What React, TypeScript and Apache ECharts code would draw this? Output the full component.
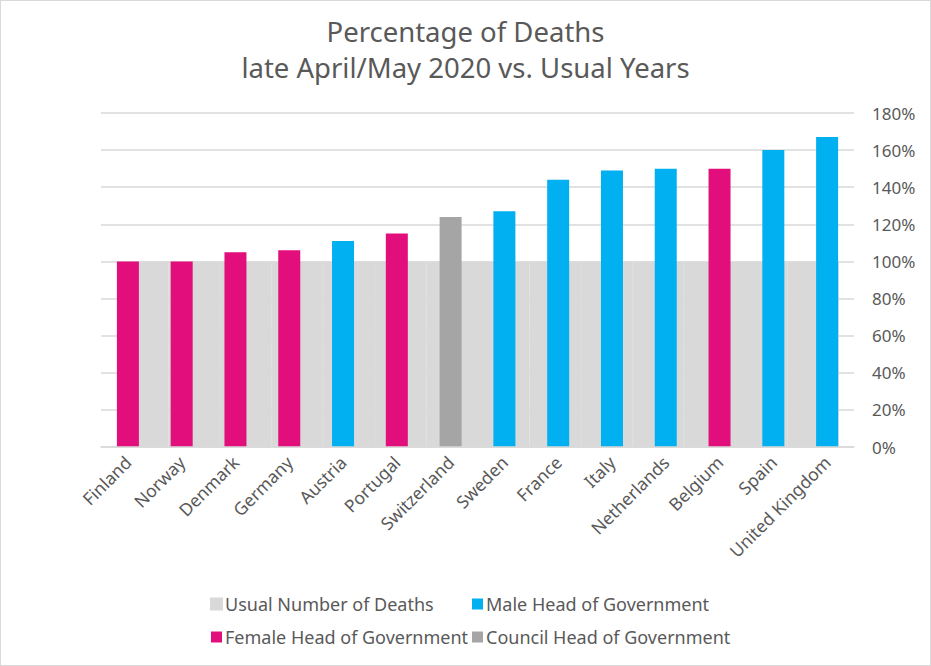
import React, { useEffect, useRef } from 'react';
import * as echarts from 'echarts';

const countries = [
  'Finland', 'Norway', 'Denmark', 'Germany', 'Austria', 'Portugal', 'Switzerland',
  'Sweden', 'France', 'Italy', 'Netherlands', 'Belgium', 'Spain', 'United Kingdom'
];
const usualDeaths = [100, 100, 100, 100, 100, 100, 100, 100, 100, 100, 100, 100, 100, 100];
const maleHead = [null, null, null, null, 111, null, null, 127, 144, 149, 150, null, 160, 167];
const femaleHead = [100, 100, 105, 106, null, 115, null, null, null, null, null, 150, null, null];
const councilHead = [null, null, null, null, null, null, 124, null, null, null, null, null, null, null];

const FONT = '"Noto Sans", "Open Sans", sans-serif';
const TEXT = '#595959';

export default function App() {
  const chartRef = useRef<HTMLDivElement>(null);

  useEffect(() => {
    document.body.style.margin = '0';
    if (!chartRef.current) return;
    const chart = echarts.init(chartRef.current, null, { renderer: 'svg' });

    const legendStyle = {
      orient: 'vertical' as const,
      top: 589,
      itemGap: 15,
      itemWidth: 11,
      itemHeight: 11,
      icon: 'rect',
      textStyle: { fontFamily: FONT, fontSize: 18, color: TEXT, padding: [0, 0, 0, -2] }
    };

    const option: echarts.EChartsOption = {
      animation: false,
      textStyle: { fontFamily: FONT, color: TEXT },
      title: {
        text: 'Percentage of Deaths\nlate April/May 2020 vs. Usual Years',
        left: 'center',
        top: 7,
        textStyle: { fontFamily: FONT, fontSize: 27.5, fontWeight: 'normal', color: TEXT, lineHeight: 36 }
      },
      legend: [
        { ...legendStyle, data: ['Usual Number of Deaths', 'Female Head of Government'], left: 204 },
        { ...legendStyle, data: ['Male Head of Government', 'Council Head of Government'], left: 466 }
      ],
      grid: [
        { left: 100, right: 76, top: 112, bottom: 218 },
        { left: 116, right: 91, top: 112, bottom: 218 }
      ],
      xAxis: [
        {
          type: 'category',
          gridIndex: 0,
          data: countries,
          axisLine: { lineStyle: { color: '#d9d9d9', width: 1.5 } },
          axisTick: { show: false },
          axisLabel: {
            interval: 0,
            rotate: 45,
            margin: 12,
            fontFamily: FONT,
            fontSize: 17.5,
            color: TEXT
          },
          z: 10
        },
        {
          type: 'category',
          gridIndex: 1,
          data: countries,
          show: false
        }
      ],
      yAxis: [
        {
          type: 'value',
          gridIndex: 0,
          position: 'right',
          min: 0,
          max: 180,
          interval: 20,
          axisLine: { show: false },
          axisTick: { show: false },
          splitLine: { lineStyle: { color: '#d9d9d9', width: 1.5 } },
          axisLabel: {
            formatter: '{value}%',
            margin: 18,
            fontFamily: FONT,
            fontSize: 17,
            color: TEXT
          }
        },
        {
          type: 'value',
          gridIndex: 1,
          min: 0,
          max: 180,
          show: false
        }
      ],
      series: [
        {
          name: 'Usual Number of Deaths',
          type: 'bar',
          xAxisIndex: 1,
          yAxisIndex: 1,
          data: usualDeaths,
          barCategoryGap: 0,
          itemStyle: { color: '#d9d9d9', borderColor: '#d9d9d9', borderWidth: 1 },
          z: 1
        },
        {
          name: 'Male Head of Government',
          type: 'bar',
          data: maleHead,
          barWidth: 22,
          barGap: '-100%',
          itemStyle: { color: '#00b0f0' },
          z: 3
        },
        {
          name: 'Female Head of Government',
          type: 'bar',
          data: femaleHead,
          barWidth: 22,
          barGap: '-100%',
          itemStyle: { color: '#e20e7c' },
          z: 3
        },
        {
          name: 'Council Head of Government',
          type: 'bar',
          data: councilHead,
          barWidth: 22,
          barGap: '-100%',
          itemStyle: { color: '#a5a5a5' },
          z: 3
        }
      ]
    };

    chart.setOption(option);
    return () => {
      chart.dispose();
    };
  }, []);

  return (
    <div
      ref={chartRef}
      style={{ width: 931, height: 666, boxSizing: 'border-box', border: '1px solid #d9d9d9', background: '#fff' }}
    />
  );
}
